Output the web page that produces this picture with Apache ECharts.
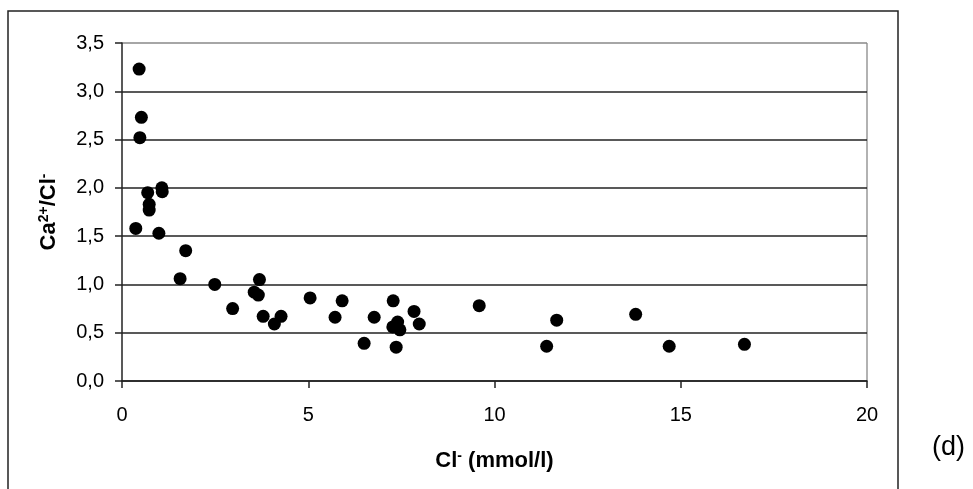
<!DOCTYPE html>
<html>
<head>
    <meta charset="UTF-8">
    <title>Ca/Cl</title>
    <script src="https://cdn.jsdelivr.net/npm/echarts@6/dist/echarts.min.js"></script>
    <style>
        body { margin: 0; background: #fff; }
        #chart { width: 973px; height: 489px; }
    </style>
</head>
<body>
    <div id="chart"></div>
    <script>
        // Cl- (mmol/l) and Ca2+/Cl- ratio
        var clValues = [0.46, 0.52, 0.48, 0.69, 1.07, 1.08, 0.73, 0.73, 0.37, 0.99,
                        1.71, 1.56, 2.49, 3.69, 3.55, 3.66, 2.97, 3.79, 4.09, 4.27,
                        5.05, 5.72, 5.91, 6.77, 6.50, 7.28, 7.40, 7.27, 7.46, 7.36,
                        7.84, 7.98, 9.59, 11.67, 11.40, 13.79, 14.69, 16.71];
        var ratioValues = [3.23, 2.73, 2.52, 1.95, 2.00, 1.96, 1.83, 1.77, 1.58, 1.53,
                           1.35, 1.06, 1.00, 1.05, 0.92, 0.89, 0.75, 0.67, 0.59, 0.67,
                           0.86, 0.66, 0.83, 0.66, 0.39, 0.83, 0.61, 0.56, 0.53, 0.35,
                           0.72, 0.59, 0.78, 0.63, 0.36, 0.69, 0.36, 0.38];
        var xTicks = [0, 20, 5];       // min, max, step
        var yTicks = [0, 3.5, 0.5];

        var points = [];
        for (var i = 0; i < clValues.length; i++) {
            points.push([clValues[i], ratioValues[i]]);
        }

        var font = 'Liberation Sans, Arial, sans-serif';
        var supStyle = {fontFamily: font, fontSize: 14, fontWeight: 'bold', color: '#000', verticalAlign: 'top', padding: [0, 0, 9, 0]};
        var chart = echarts.init(document.getElementById('chart'), null, {renderer: 'canvas'});

        chart.setOption({
            animation: false,
            grid: {left: 122, top: 43, right: 106, bottom: 108},
            xAxis: {
                type: 'value',
                min: xTicks[0], max: xTicks[1], interval: xTicks[2],
                name: 'Cl{sup|-} (mmol/l)',
                nameLocation: 'middle',
                nameGap: 68,
                nameTextStyle: {
                    fontFamily: font, fontSize: 22, fontWeight: 'bold', color: '#000',
                    rich: {sup: supStyle}
                },
                axisLine: {lineStyle: {color: '#222', width: 1.5}},
                axisTick: {length: 7, lineStyle: {color: '#222', width: 1.5}},
                axisLabel: {fontFamily: font, fontSize: 20, color: '#000', margin: 24},
                splitLine: {show: false}
            },
            yAxis: {
                type: 'value',
                min: yTicks[0], max: yTicks[1], interval: yTicks[2],
                name: 'Ca{sup|2+}/Cl{sup|-}',
                nameLocation: 'middle',
                nameRotate: 90,
                nameGap: 62,
                nameTextStyle: {
                    fontFamily: font, fontSize: 22, fontWeight: 'bold', color: '#000',
                    rich: {sup: supStyle}
                },
                axisLine: {show: true, lineStyle: {color: '#222', width: 1.5}},
                axisTick: {show: true, length: 7, lineStyle: {color: '#222', width: 1.5}},
                axisLabel: {
                    fontFamily: font, fontSize: 20, color: '#000', margin: 18,
                    formatter: function (v) { return v.toFixed(1).replace('.', ','); }
                },
                splitLine: {
                    lineStyle: {color: ['#222', '#222', '#222', '#222', '#222', '#222', '#222', '#888'], width: 1.5}
                }
            },
            graphic: [
                {type: 'line', shape: {x1: 867, y1: 43, x2: 867, y2: 381}, style: {stroke: '#999', lineWidth: 1.5}},
                {type: 'rect', shape: {x: 8, y: 11, width: 890, height: 520}, style: {fill: null, stroke: '#222', lineWidth: 1.5}},
                {type: 'text', left: 932, top: 434, style: {text: '(d)', fontFamily: font, fontSize: 27, fill: '#000'}}
            ],
            series: [{
                type: 'scatter',
                symbol: 'circle',
                symbolSize: 13,
                itemStyle: {color: '#000', opacity: 1},
                data: points
            }]
        });
    </script>
</body>
</html>
